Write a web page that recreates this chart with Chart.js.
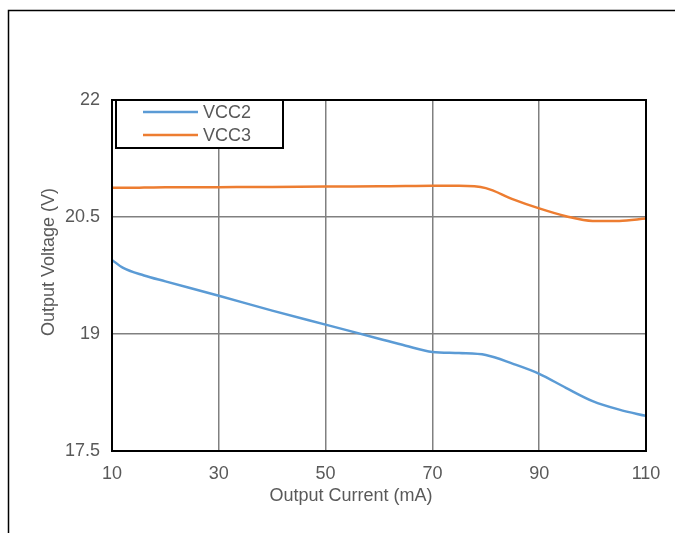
<!DOCTYPE html>
<html>
<head>
<meta charset="utf-8">
<script src="https://cdn.jsdelivr.net/npm/chart.js@4"></script>
<style>
  html, body { margin: 0; background: #fff; overflow: hidden; }
  canvas { display: block; }
</style>
</head>
<body>
<canvas id="myChart" width="675" height="533"></canvas>
<script>
// Data
const currents = [10, 12, 16, 20, 30, 40, 50, 60, 65, 70, 75, 80, 85, 90, 95, 100, 105, 110]
const vcc2 = [19.95, 19.85, 19.75, 19.675, 19.49, 19.30, 19.12, 18.94, 18.85, 18.77, 18.755, 18.73, 18.62, 18.49, 18.31, 18.14, 18.03, 17.95]
const vcc3 = [20.875, 20.875, 20.877, 20.88, 20.883, 20.886, 20.89, 20.895, 20.897, 20.9, 20.9, 20.87, 20.73, 20.61, 20.51, 20.45, 20.45, 20.48]
const seriesNames = ['VCC2', 'VCC3']
const seriesColors = ['#5B9BD5', '#ED7D31']
const xTitle = 'Output Current (mA)'
const yTitle = 'Output Voltage (V)'

const textColor = '#595959'
const font = '18px "Liberation Sans", Arial, sans-serif'

function toPoints(values){
  return currents.map((c, i) => ({ x: c, y: values[i] }))
}

// outer frame (top and left edges only)
const frame = {
  id: 'frame',
  beforeDraw(chart){
    const ctx = chart.ctx
    ctx.save()
    ctx.strokeStyle = '#000'
    ctx.lineWidth = 1.5
    ctx.beginPath()
    ctx.moveTo(8.5, 533)
    ctx.lineTo(8.5, 10.5)
    ctx.lineTo(675, 10.5)
    ctx.stroke()
    ctx.restore()
  }
}

// plot frame, legend box and axis titles
const extras = {
  id: 'extras',
  afterDatasetsDraw(chart){
    const ctx = chart.ctx
    const a = chart.chartArea
    ctx.save()
    ctx.strokeStyle = '#000'
    ctx.lineWidth = 2
    ctx.strokeRect(a.left, a.top, a.right - a.left, a.bottom - a.top)

    // legend
    ctx.fillStyle = '#fff'
    ctx.fillRect(116, 100, 167, 48)
    ctx.strokeRect(116, 100, 167, 48)
    ctx.font = font
    ctx.textBaseline = 'middle'
    ctx.textAlign = 'left'
    chart.data.datasets.forEach((ds, i) => {
      const y = 112 + i * 23
      ctx.strokeStyle = ds.borderColor
      ctx.lineWidth = 2.5
      ctx.beginPath()
      ctx.moveTo(143, y)
      ctx.lineTo(198, y)
      ctx.stroke()
      ctx.fillStyle = textColor
      ctx.fillText(ds.label, 203, y + 1)
    })

    // axis titles
    ctx.fillStyle = textColor
    ctx.textAlign = 'center'
    ctx.fillText(xTitle, 351, 496)
    ctx.translate(49, 262)
    ctx.rotate(-Math.PI / 2)
    ctx.fillText(yTitle, 0, 0)
    ctx.restore()
  }
}

const ctx = document.getElementById('myChart')
const myChart = new Chart(ctx, {
  type: 'line',
  data: {
    datasets: [
      {
        label: seriesNames[0],
        data: toPoints(vcc2),
        borderColor: seriesColors[0],
        backgroundColor: seriesColors[0],
        borderWidth: 2.5,
        pointRadius: 0,
        cubicInterpolationMode: 'monotone',
      },
      {
        label: seriesNames[1],
        data: toPoints(vcc3),
        borderColor: seriesColors[1],
        backgroundColor: seriesColors[1],
        borderWidth: 2.5,
        pointRadius: 0,
        cubicInterpolationMode: 'monotone',
      },
    ],
  },
  options: {
    responsive: false,
    animation: false,
    layout: { padding: { top: 100, right: 29, left: 0, bottom: 0 } },
    plugins: {
      legend: { display: false },
      tooltip: { enabled: false },
    },
    scales: {
      x: {
        type: 'linear',
        min: 10,
        max: 110,
        afterFit: (scale) => { scale.height = 82 },
        ticks: {
          stepSize: 20,
          padding: 12,
          color: textColor,
          font: { family: '"Liberation Sans", Arial, sans-serif', size: 18 },
        },
        grid: { color: '#808080', lineWidth: 1.5, drawTicks: false },
        border: { display: false },
      },
      y: {
        min: 17.5,
        max: 22,
        afterFit: (scale) => { scale.width = 112 },
        ticks: {
          stepSize: 1.5,
          padding: 12,
          color: textColor,
          font: { family: '"Liberation Sans", Arial, sans-serif', size: 18 },
        },
        grid: { color: '#808080', lineWidth: 1.5, drawTicks: false },
        border: { display: false },
      },
    },
  },
  plugins: [frame, extras],
});
</script>
</body>
</html>
